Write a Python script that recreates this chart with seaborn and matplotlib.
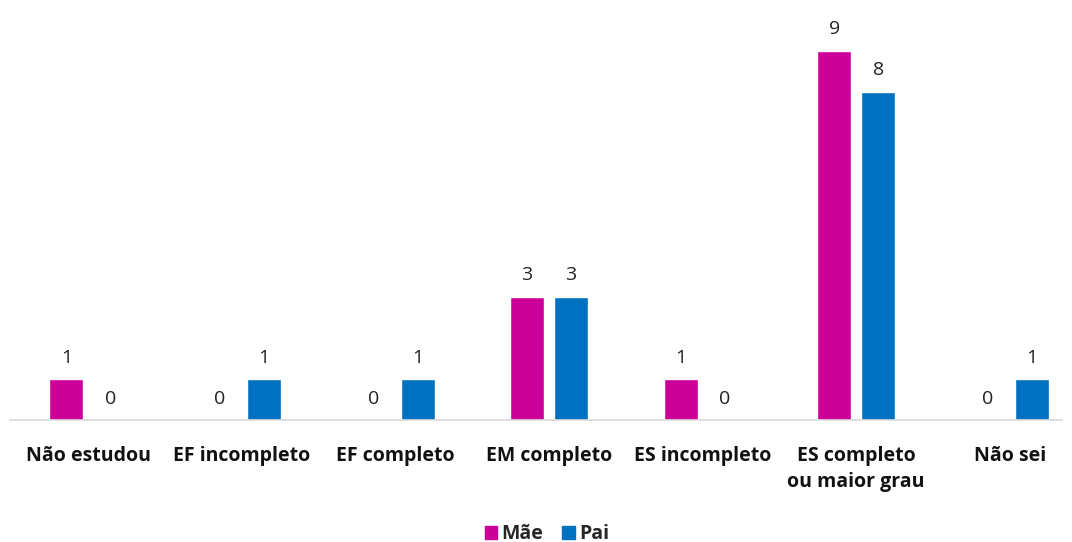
"""
escolaridade dos pais - bar chart
"""

import numpy as np
import pandas as pd
import seaborn as sns
import matplotlib.pyplot as plt

# data
categorias = ["Não estudou", "EF incompleto", "EF completo", "EM completo",
              "ES incompleto", "ES completo\nou maior grau", "Não sei"]
mae = [1, 0, 0, 3, 1, 9, 0]
pai = [0, 1, 1, 3, 0, 8, 1]
series = ["Mãe", "Pai"]
cores = ["#CC0099", "#0070C0"]

df = pd.DataFrame({
    "categoria": categorias * 2,
    "valor": mae + pai,
    "serie": [series[0]] * len(categorias) + [series[1]] * len(categorias),
})

# configurations
sns.set_style("white")
plt.rcParams["font.family"] = ["Open Sans", "DejaVu Sans"]

fig = plt.figure(figsize=(10.72, 5.42), dpi=100)
ax = fig.add_axes([0.0095, 0.225, 0.981, 0.738])

sns.barplot(data=df, x="categoria", y="valor", hue="serie", palette=cores,
            width=0.573, gap=0.227, saturation=1, ax=ax)

for cont in ax.containers:
    ax.bar_label(cont, padding=9, fontsize=14, color="#222222")

# polish
ax.set_xlim(-0.51, 6.34)
ax.set_ylim(0, 9.75)
ax.set_xlabel("")
ax.set_ylabel("")
ax.set_yticks([])
for s in ["top", "left", "right"]:
    ax.spines[s].set_visible(False)
ax.spines["bottom"].set_color("#D9D9D9")
ax.spines["bottom"].set_linewidth(1.2)
ax.tick_params(axis="x", length=0, pad=19)
for lbl in ax.get_xticklabels():
    lbl.set_fontweight("bold")
    lbl.set_fontsize(14)
    lbl.set_color("#111111")
    lbl.set_linespacing(1.4)

ax.legend_.remove()
handles = [plt.Rectangle((0, 0), 1, 1, color=c) for c in cores]
leg = fig.legend(handles, series, loc="center", bbox_to_anchor=(0.51, 0.015),
                 ncol=2, frameon=False, handlelength=0.65, handleheight=0.65,
                 handletextpad=0.2, columnspacing=1.0,
                 prop={"size": 14, "weight": "bold"})

plt.savefig("out.png", dpi=100)
